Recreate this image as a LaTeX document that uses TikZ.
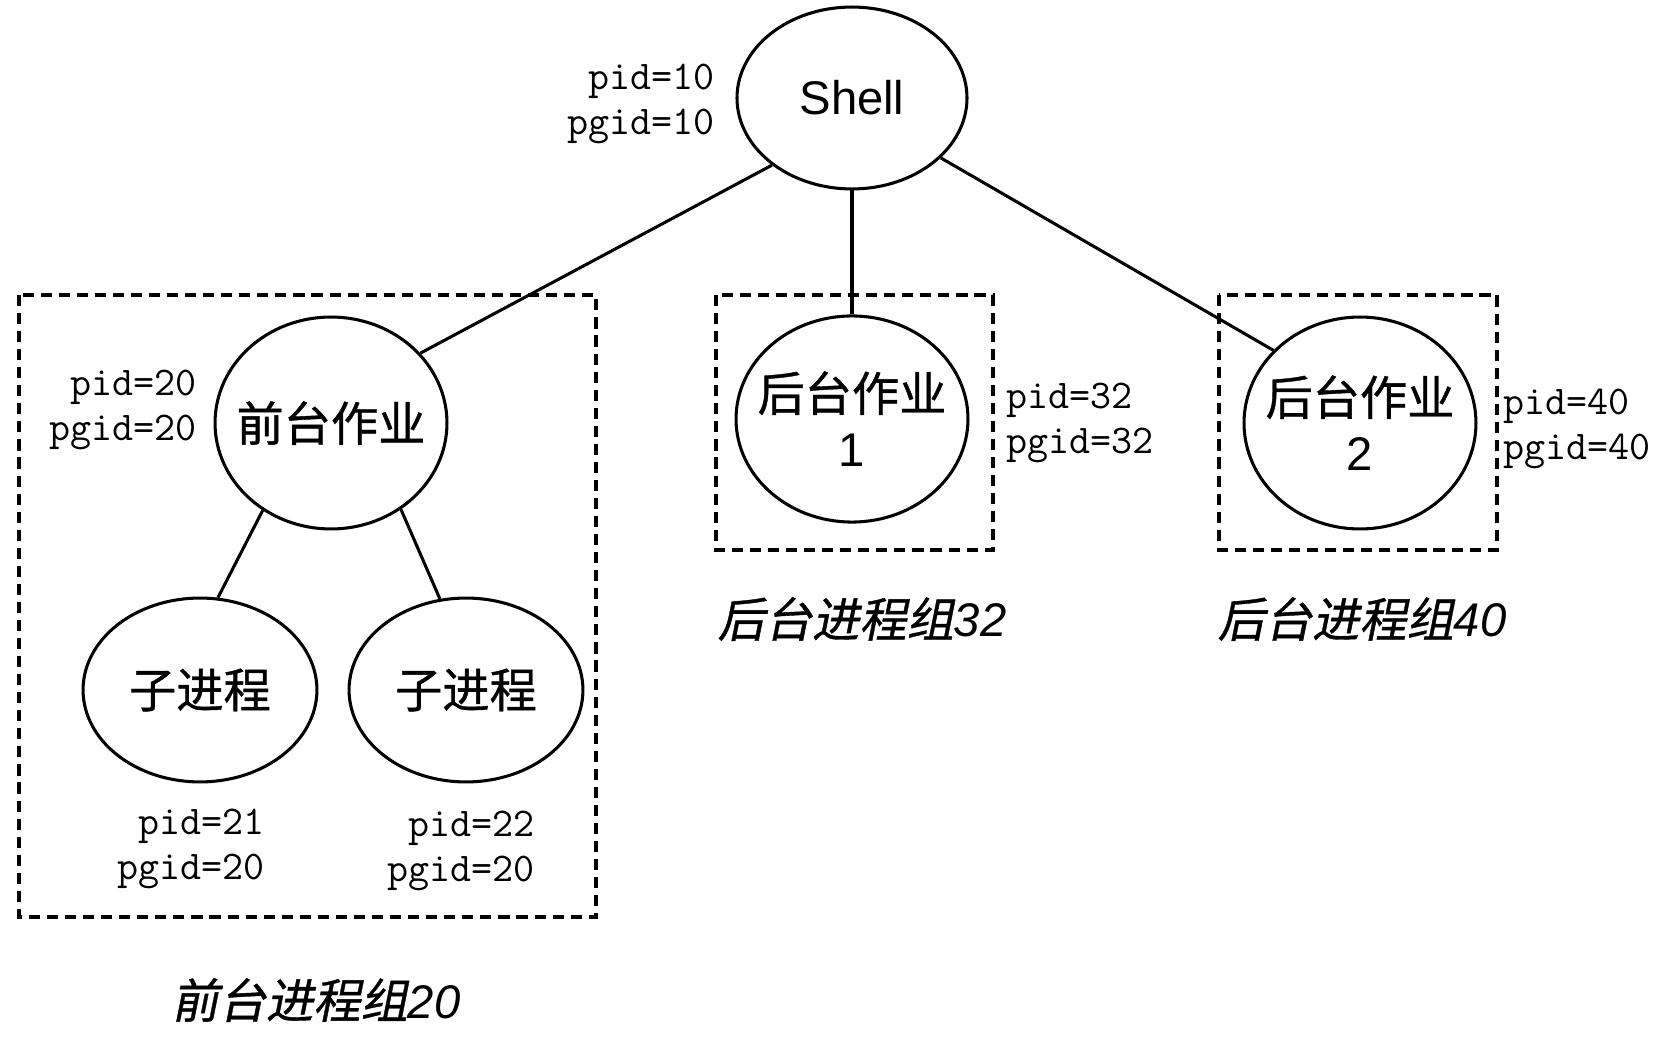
\documentclass[tikz,border=0pt]{standalone}
\usepackage{fontspec}
\setmainfont{Liberation Sans}
\newfontfamily\cjk[AutoFakeSlant=0.2, FakeBold=0.8]{Noto Sans CJK SC}
\usetikzlibrary{shapes.geometric}

\tikzset{
    proc/.style={ellipse, draw, line width=1.1pt, inner sep=-12pt,
        minimum width=83.5pt, minimum height=75pt, align=center,
        font=\fontsize{17}{20}\selectfont},
    ids/.style={font=\ttfamily\fontsize{14.7}{16}\selectfont, inner sep=0pt},
    groupbox/.style={draw, line width=1.1pt, dash pattern=on 4pt off 2.5pt},
    grouplabel/.style={font=\fontsize{17}{20}\selectfont, inner sep=0pt},
    link/.style={line width=1.1pt}
}

\begin{document}
\begin{tikzpicture}[x=0.36pt, y=-0.36pt]

        \useasboundingbox (0,0) rectangle (1668,1040);

        % Process group frames
        \draw[groupbox] (19,295) rectangle (596,917);
        \draw[groupbox] (716,295) rectangle (993,550);
        \draw[groupbox] (1219,295) rectangle (1497,550);

        % Processes
        \node[proc, minimum height=65.5pt, minimum width=82.8pt] (shell) at (852,98) {Shell};
        \node[proc, minimum height=76.3pt] (fg) at (331,423) {\cjk 前台作业};
        \node[proc, minimum height=74.2pt] (bg1) at (852,419) {{\cjk 后台作业}\\1};
        \node[proc, minimum height=76.3pt] (bg2) at (1360,423) {{\cjk 后台作业}\\2};
        \node[proc, minimum height=66.2pt, minimum width=84.2pt] (c1) at (200,690) {\cjk 子进程};
        \node[proc, minimum height=66.2pt, minimum width=84.2pt] (c2) at (466,690) {\cjk 子进程};

        % Tree links
        \draw[link] (shell.220) -- (fg.38);
        \draw[link] (shell.south) -- (bg1.north);
        \draw[link] (shell.-34) -- (bg2.140);
        \draw[link] (fg.232) -- (c1.79);
        \draw[link] (fg.309) -- (c2.106);

        % Ids
        \node[ids, anchor=east, align=right] (id10) at (715,104) {pid=10\\pgid=10};
        \node[ids, anchor=east, align=right] (id20) at (197,410) {pid=20\\pgid=20};
        \node[ids, anchor=west, align=left] (id32) at (1006,423) {pid=32\\pgid=32};
        \node[ids, anchor=west, align=left] (id40) at (1503,429) {pid=40\\pgid=40};
        \node[ids, anchor=east, align=right] (id21) at (265,849) {pid=21\\pgid=20};
        \node[ids, anchor=east, align=right] (id22) at (535,851) {pid=22\\pgid=20};

        % Group names
        \node[grouplabel] (fgname) at (316,1000) {{\cjk\itshape 前台进程组}\textit{20}};
        \node[grouplabel] (bg1name) at (862,619) {{\cjk\itshape 后台进程组}\textit{32}};
        \node[grouplabel] (bg2name) at (1362,619) {{\cjk\itshape 后台进程组}\textit{40}};

\end{tikzpicture}
\end{document}
